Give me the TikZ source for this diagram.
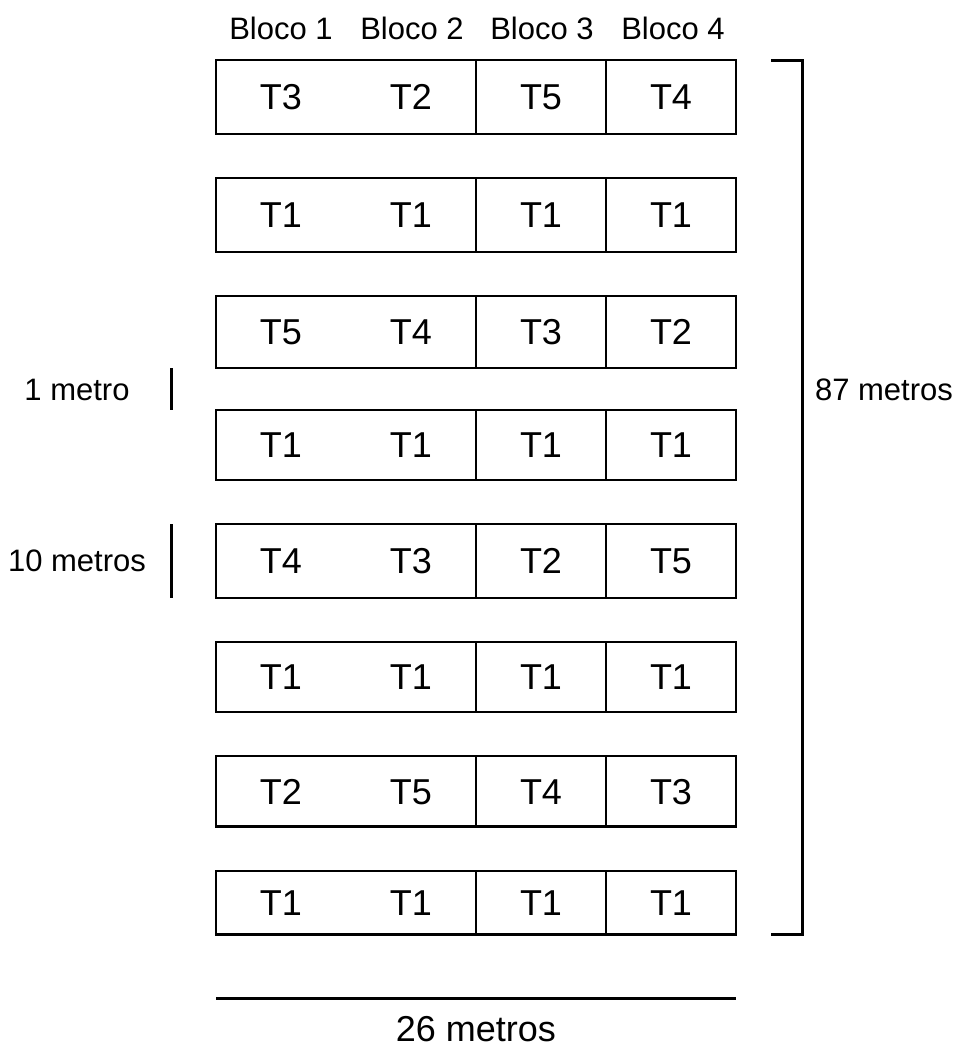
\documentclass[tikz,border=0pt]{standalone}
\usepackage{fontspec}
\setmainfont{Liberation Sans}
\usetikzlibrary{calc}
\tikzset{
  rowbox/.style={draw, line width=2.1pt, rectangle, inner sep=0pt, outer sep=0pt, minimum width=390pt},
  divline/.style={line width=1.5pt},
  thickline/.style={line width=2.25pt},
  tlab/.style={anchor=base, inner sep=0pt, font=\fontsize{27}{30}\selectfont},
  slab/.style={anchor=base, inner sep=0pt, font=\fontsize{23.25}{26}\selectfont}
}
\begin{document}
\begin{tikzpicture}[x=0.75pt, y=-0.75pt]
\useasboundingbox (0,0) rectangle (956,1046);
\foreach \n/\t/\b/\la/\lb/\lc/\ld in {
  1/60/134/T3/T2/T5/T4,
  2/178/252/T1/T1/T1/T1,
  3/296/368/T5/T4/T3/T2,
  4/410/480/T1/T1/T1/T1,
  5/524/598/T4/T3/T2/T5,
  6/642/712/T1/T1/T1/T1,
  7/756/826.5/T2/T5/T4/T3,
  8/871/934.5/T1/T1/T1/T1} {
  \node[rowbox, minimum height={(\b-\t)*0.75pt}] (r\n) at (476,{(\t+\b)/2}) {};
  \draw[divline] ($(r\n.north west)!0.5!(r\n.north east)$) -- ($(r\n.south west)!0.5!(r\n.south east)$);
  \draw[divline] ($(r\n.north west)!0.75!(r\n.north east)$) -- ($(r\n.south west)!0.75!(r\n.south east)$);
  \node[tlab] (t\n-1) at ($(r\n.west)!0.125!(r\n.east)+(0,12.9)$) {\la};
  \node[tlab] (t\n-2) at ($(r\n.west)!0.375!(r\n.east)+(0,12.9)$) {\lb};
  \node[tlab] (t\n-3) at ($(r\n.west)!0.625!(r\n.east)+(0,12.9)$) {\lc};
  \node[tlab] (t\n-4) at ($(r\n.west)!0.875!(r\n.east)+(0,12.9)$) {\ld};
}
% block headers
\node[slab] (b1) at (281,39.3) {Bloco 1};
\node[slab] (b2) at (412,39.3) {Bloco 2};
\node[slab] (b3) at (542,39.3) {Bloco 3};
\node[slab] (b4) at (673,39.3) {Bloco 4};
% right bracket
\coordinate (brt) at ($(r1.north east)+(35,0)$);
\coordinate (brb) at ($(r8.south east)+(35,0)$);
\draw[thickline] (brt) -- ++(31,0) |- (brb);
\node[slab] (lab87) at (884,400) {87 metros};
% left markers
\draw[thickline] ($(r3.south west)+(-45,0)$) -- ($(r4.north west)+(-45,0)$);
\node[slab] (lab1) at (77,400) {1 metro};
\draw[thickline] ($(r5.north west)+(-45,0)$) -- ($(r5.south west)+(-45,0)$);
\node[slab] (lab10) at (77,571.7) {10 metros};
% bottom width marker
\coordinate (bl) at ($(r8.south west)+(0,64)$);
\coordinate (br) at ($(r8.south east)+(0,64)$);
\draw[thickline] (bl) -- (br);
\node[tlab] (lab26) at ($(bl)!0.5!(br)+(0,43)$) {26 metros};
\end{tikzpicture}
\end{document}
